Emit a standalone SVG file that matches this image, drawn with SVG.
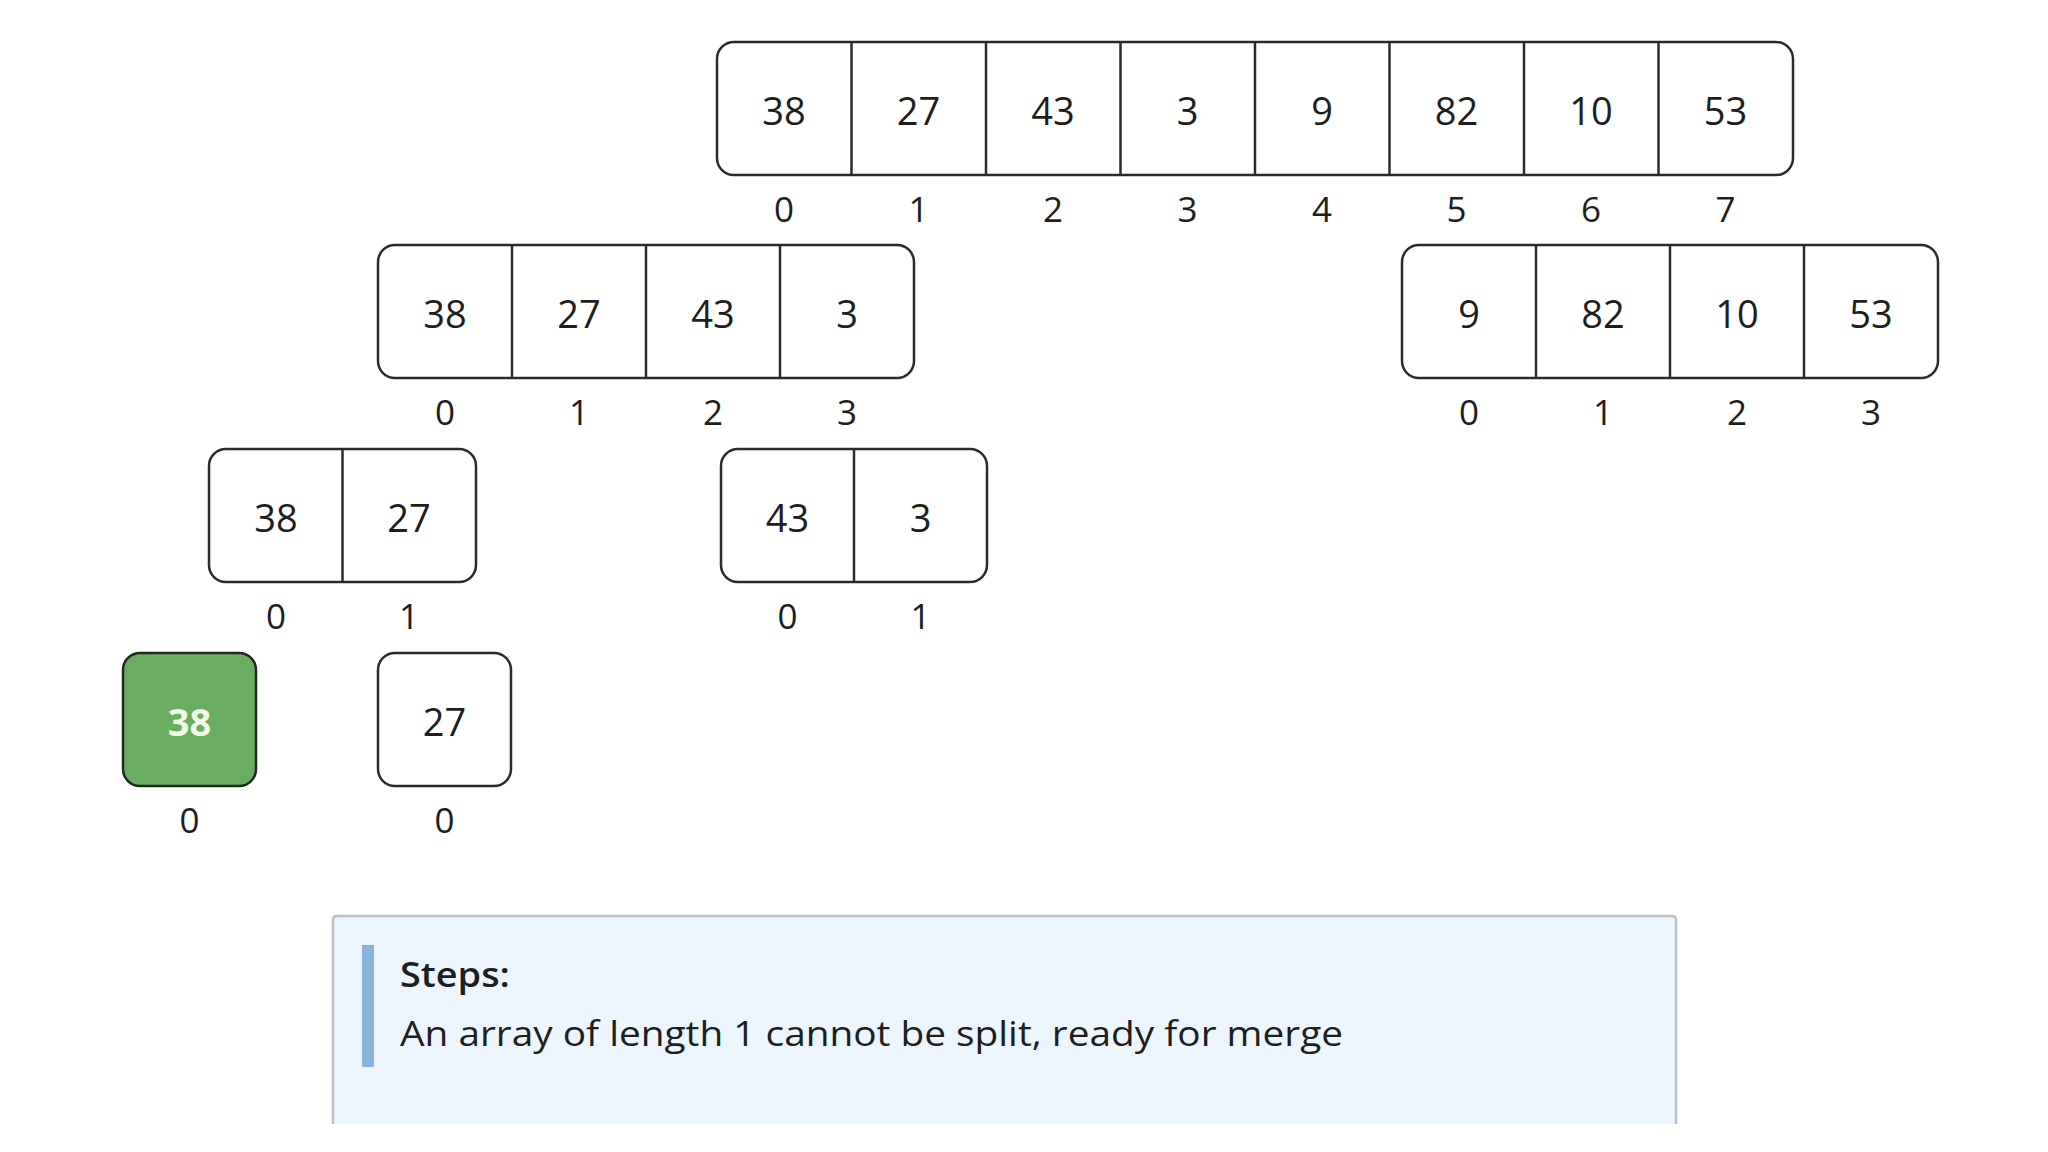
<svg xmlns="http://www.w3.org/2000/svg" width="2048" height="1152" viewBox="0 0 2048 1152">
<style>
  .box{fill:#ffffff;stroke:#2b2b2b;stroke-width:2.5}
  .div{stroke:#2b2b2b;stroke-width:2.5}
  .val{font-family:"Open Sans","Noto Sans",sans-serif;font-size:38px;fill:#1e1e1e;text-anchor:middle}
  .idx{font-family:"Open Sans","Noto Sans",sans-serif;font-size:35px;fill:#1e1e1e;text-anchor:middle}
  .done{fill:#68ad60;stroke:#1d2b1b;stroke-width:2.5}
  .doneval{font-family:"Open Sans","Noto Sans",sans-serif;font-size:38px;font-weight:bold;fill:#f2f8e6;text-anchor:middle}
  .info{font-family:"Open Sans","Noto Sans",sans-serif;font-size:35px;fill:#1e1e1e}
</style>
<rect width="2048" height="1152" fill="#ffffff"/>

<g id="array-top">
  <rect class="box" x="717" y="42" width="1076" height="133" rx="17"/>
  <line class="div" x1="851.5" y1="42" x2="851.5" y2="175"/>
  <line class="div" x1="986" y1="42" x2="986" y2="175"/>
  <line class="div" x1="1120.5" y1="42" x2="1120.5" y2="175"/>
  <line class="div" x1="1255" y1="42" x2="1255" y2="175"/>
  <line class="div" x1="1389.5" y1="42" x2="1389.5" y2="175"/>
  <line class="div" x1="1524" y1="42" x2="1524" y2="175"/>
  <line class="div" x1="1658.5" y1="42" x2="1658.5" y2="175"/>
  <text class="val" x="784" y="124.5">38</text>
  <text class="val" x="918.5" y="124.5">27</text>
  <text class="val" x="1053" y="124.5">43</text>
  <text class="val" x="1187.5" y="124.5">3</text>
  <text class="val" x="1322" y="124.5">9</text>
  <text class="val" x="1456.5" y="124.5">82</text>
  <text class="val" x="1591" y="124.5">10</text>
  <text class="val" x="1725.5" y="124.5">53</text>
  <text class="idx" x="784" y="222">0</text>
  <text class="idx" x="918.5" y="222">1</text>
  <text class="idx" x="1053" y="222">2</text>
  <text class="idx" x="1187.5" y="222">3</text>
  <text class="idx" x="1322" y="222">4</text>
  <text class="idx" x="1456.5" y="222">5</text>
  <text class="idx" x="1591" y="222">6</text>
  <text class="idx" x="1725.5" y="222">7</text>
</g>

<g id="array-left">
  <rect class="box" x="378" y="245" width="536" height="133" rx="17"/>
  <line class="div" x1="512" y1="245" x2="512" y2="378"/>
  <line class="div" x1="646" y1="245" x2="646" y2="378"/>
  <line class="div" x1="780" y1="245" x2="780" y2="378"/>
  <text class="val" x="445" y="327.5">38</text>
  <text class="val" x="579" y="327.5">27</text>
  <text class="val" x="713" y="327.5">43</text>
  <text class="val" x="847" y="327.5">3</text>
  <text class="idx" x="445" y="425">0</text>
  <text class="idx" x="579" y="425">1</text>
  <text class="idx" x="713" y="425">2</text>
  <text class="idx" x="847" y="425">3</text>
</g>

<g id="array-right">
  <rect class="box" x="1402" y="245" width="536" height="133" rx="17"/>
  <line class="div" x1="1536" y1="245" x2="1536" y2="378"/>
  <line class="div" x1="1670" y1="245" x2="1670" y2="378"/>
  <line class="div" x1="1804" y1="245" x2="1804" y2="378"/>
  <text class="val" x="1469" y="327.5">9</text>
  <text class="val" x="1603" y="327.5">82</text>
  <text class="val" x="1737" y="327.5">10</text>
  <text class="val" x="1871" y="327.5">53</text>
  <text class="idx" x="1469" y="425">0</text>
  <text class="idx" x="1603" y="425">1</text>
  <text class="idx" x="1737" y="425">2</text>
  <text class="idx" x="1871" y="425">3</text>
</g>

<g id="array-left-left">
  <rect class="box" x="209" y="449" width="267" height="133" rx="17"/>
  <line class="div" x1="342.5" y1="449" x2="342.5" y2="582"/>
  <text class="val" x="276" y="531.5">38</text>
  <text class="val" x="409" y="531.5">27</text>
  <text class="idx" x="276" y="629">0</text>
  <text class="idx" x="409" y="629">1</text>
</g>

<g id="array-left-right">
  <rect class="box" x="721" y="449" width="266" height="133" rx="17"/>
  <line class="div" x1="854" y1="449" x2="854" y2="582"/>
  <text class="val" x="787.5" y="531.5">43</text>
  <text class="val" x="920.5" y="531.5">3</text>
  <text class="idx" x="787.5" y="629">0</text>
  <text class="idx" x="920.5" y="629">1</text>
</g>

<g id="single-38">
  <rect class="done" x="123" y="653" width="133" height="133" rx="17"/>
  <text class="doneval" x="189.5" y="735.5">38</text>
  <text class="idx" x="189.5" y="833">0</text>
</g>

<g id="single-27">
  <rect class="box" x="378" y="653" width="133" height="133" rx="17"/>
  <text class="val" x="444.5" y="735.5">27</text>
  <text class="idx" x="444.5" y="833">0</text>
</g>

<g id="connectors"></g>

<g id="steps-panel">
  <path d="M333,1124 V920 Q333,916 337,916 H1672 Q1676,916 1676,920 V1124 Z" fill="#edf5fc" stroke="none"/>
  <path d="M333,1124 V920 Q333,916 337,916 H1672 Q1676,916 1676,920 V1124" fill="none" stroke="#b9c1c9" stroke-width="2.5"/>
  <rect x="362" y="945" width="12" height="122" fill="#89b4d9"/>
  <text class="info" x="400" y="987" font-weight="600" textLength="110" lengthAdjust="spacingAndGlyphs">Steps:</text>
  <text class="info" x="400" y="1046" textLength="943" lengthAdjust="spacingAndGlyphs">An array of length 1 cannot be split, ready for merge</text>
</g>
</svg>
